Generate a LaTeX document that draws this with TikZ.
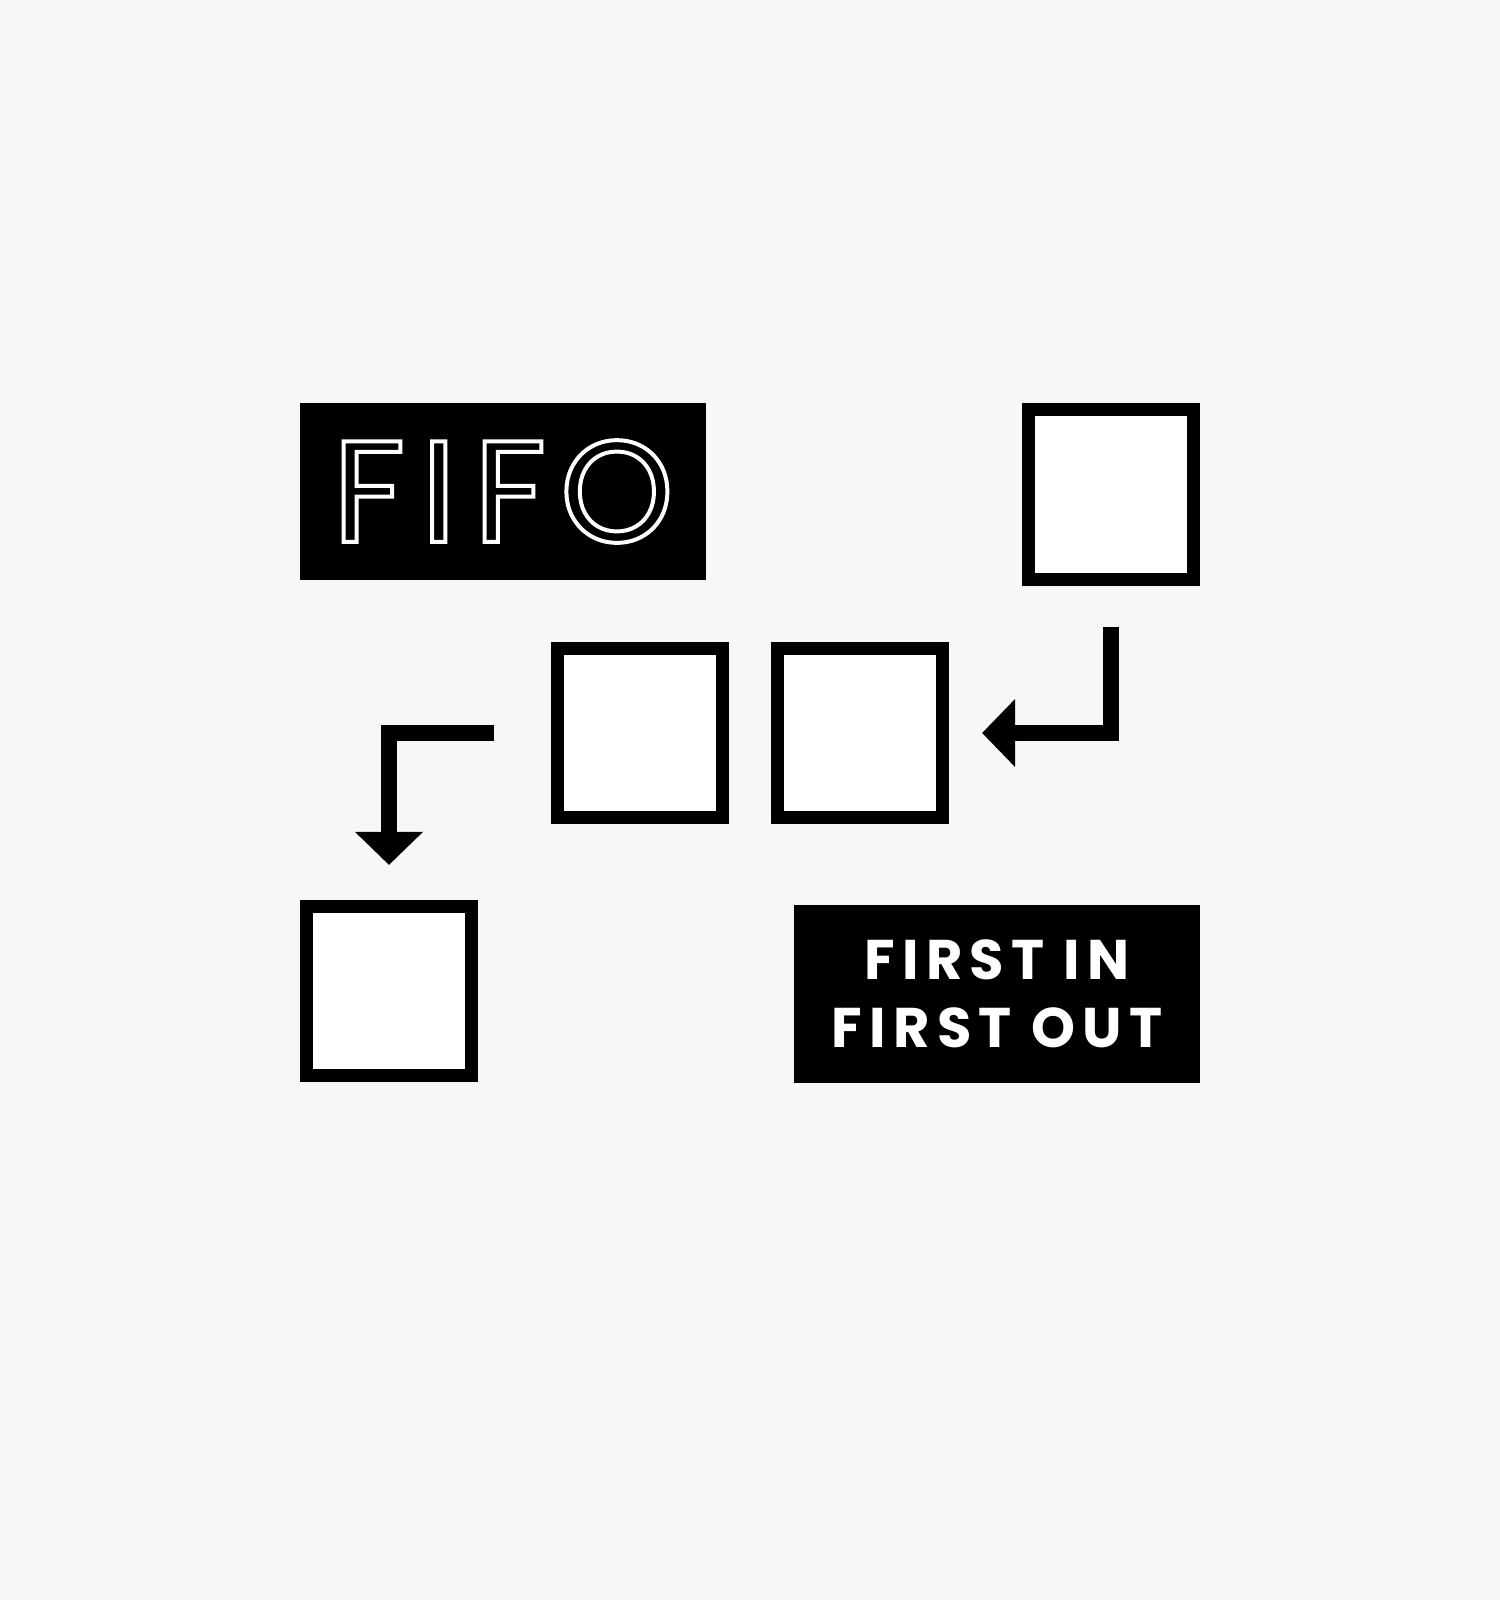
\documentclass[tikz,border=0pt]{standalone}
\usepackage{fontspec}
\usetikzlibrary{arrows.meta}
\newfontfamily\fifofont{Poppins}
\newfontfamily\tagfont{Poppins}[LetterSpace=13]
\definecolor{paper}{RGB}{246,248,248}
\newcommand\hollow[1]{\special{pdf:literal direct 1 Tr 1.13 w}#1\special{pdf:literal direct 0 Tr}}

\begin{document}
\begin{tikzpicture}[
    x=0.01cm, y=-0.01cm,
    slot/.style={rectangle, draw=black, fill=white, line width=1.3mm, minimum width=16.5mm, minimum height=16.9mm},
    tag/.style={rectangle, fill=black, text=white, inner sep=0pt, minimum width=40.6mm, minimum height=17.7mm},
    flow/.style={-{Triangle[length=3.3mm, width=6.6mm]}, line width=1.6mm}
]
    \fill[paper] (0,0) rectangle (1500,1600);
    \useasboundingbox (0,0) rectangle (1500,1600);

    % Labels
    \node[tag, font={\fifofont\fontsize{41}{41}\selectfont}] (fifo) at (503,491.5) {\hollow{F\kern1.6mm I\kern1.7mm F\kern1.4mm O}};
    \node[tag, align=center, font={\tagfont\bfseries\fontsize{15.9}{19.35}\selectfont}] (fifo-full) at (997,994) {FIRST IN\\FIRST OUT};

    % Slots
    \node[slot] (s1) at (1111,494.5) {};
    \node[slot] (s2) at (860,733) {};
    \node[slot] (s3) at (640,733) {};
    \node[slot] (s4) at (389,991) {};

    % Arrows
    \draw[flow, shorten <=4.1mm, shorten >=3.3mm] (s1.south) |- (s2.east);
    \draw[flow, shorten <=5.7mm, shorten >=3.5mm] (s3.west) -| (s4.north);
\end{tikzpicture}
\end{document}
